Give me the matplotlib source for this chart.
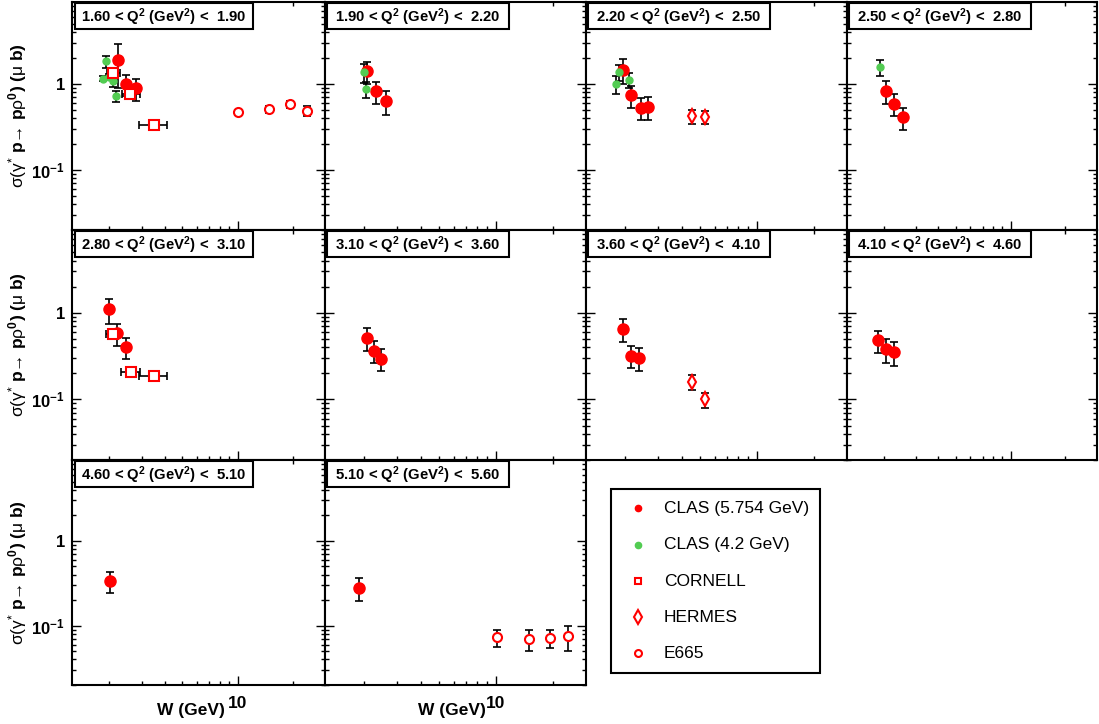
import numpy as np
import matplotlib
matplotlib.use("Agg")
import matplotlib.pyplot as plt
from matplotlib.patches import Rectangle
from matplotlib.lines import Line2D
from matplotlib.ticker import FixedLocator, FixedFormatter, NullFormatter

plt.rcParams['font.family'] = ['Liberation Sans', 'DejaVu Sans']
plt.rcParams['mathtext.fontset'] = 'custom'
plt.rcParams['mathtext.rm'] = 'Liberation Sans'
plt.rcParams['mathtext.it'] = 'Liberation Sans:italic'
plt.rcParams['mathtext.bf'] = 'Liberation Sans:bold'
plt.rcParams['mathtext.default'] = 'rm'

# ---------------- data ----------------
q2_low = ["1.60", "1.90", "2.20", "2.50", "2.80", "3.10", "3.60", "4.10", "4.60", "5.10"]
q2_high = ["1.90", "2.20", "2.50", "2.80", "3.10", "3.60", "4.10", "4.60", "5.10", "5.60"]

# CLAS (5.754 GeV)
clas57_panel = [0, 0, 0, 1, 1, 1, 2, 2, 2, 2, 3, 3, 3, 4, 4, 4, 5, 5, 5, 6, 6, 6, 7, 7, 7, 8, 9]
clas57_W = [2.22, 2.47, 2.79, 2.09, 2.32, 2.62, 1.97, 2.17, 2.44, 2.67, 2.06, 2.28, 2.55,
            2.00, 2.21, 2.45, 2.08, 2.28, 2.48, 1.97, 2.17, 2.38, 1.86, 2.06, 2.26, 2.01, 1.88]
clas57_sig = [1.91, 1.00, 0.89, 1.41, 0.82, 0.63, 1.47, 0.74, 0.53, 0.54, 0.83, 0.59, 0.41,
              1.09, 0.58, 0.40, 0.51, 0.366, 0.296, 0.655, 0.318, 0.304, 0.48, 0.38, 0.35, 0.34, 0.282]
clas57_err = [1.00, 0.28, 0.25, 0.40, 0.24, 0.19, 0.47, 0.22, 0.15, 0.16, 0.25, 0.17, 0.12,
              0.35, 0.17, 0.11, 0.15, 0.10, 0.085, 0.20, 0.09, 0.09, 0.14, 0.115, 0.105, 0.095, 0.085]

# CLAS (4.2 GeV)
clas42_panel = [0, 0, 0, 0, 0, 1, 1, 2, 2, 2, 3]
clas42_W = [1.92, 1.85, 1.98, 2.09, 2.17, 2.00, 2.06, 1.80, 1.86, 2.10, 1.89]
clas42_sig = [1.83, 1.15, 1.22, 1.08, 0.72, 1.38, 0.87, 1.00, 1.37, 1.11, 1.57]
clas42_err = [0.28, 0.08, 0.10, 0.15, 0.10, 0.34, 0.18, 0.24, 0.30, 0.22, 0.33]

# CORNELL
cornell_panel = [0, 0, 0, 4, 4, 4]
cornell_W = [2.09, 2.59, 3.49, 2.10, 2.61, 3.52]
cornell_Wlo = [1.94, 2.33, 2.89, 1.91, 2.32, 2.89]
cornell_Whi = [2.29, 2.92, 4.13, 2.30, 2.93, 4.13]
cornell_sig = [1.33, 0.76, 0.336, 0.57, 0.208, 0.187]
cornell_err = [0.10, 0.08, 0.012, 0.07, 0.025, 0.012]

# HERMES
hermes_panel = [2, 2, 6, 6]
hermes_W = [4.57, 5.35, 4.57, 5.35]
hermes_sig = [0.42, 0.41, 0.16, 0.10]
hermes_err = [0.08, 0.07, 0.03, 0.02]

# E665
e665_panel = [0, 0, 0, 0, 9, 9, 9, 9]
e665_W = [10.1, 14.9, 19.3, 24.0, 10.1, 14.9, 19.3, 24.0]
e665_sig = [0.47, 0.51, 0.58, 0.49, 0.073, 0.070, 0.072, 0.075]
e665_err = [0.03, 0.05, 0.05, 0.07, 0.017, 0.019, 0.017, 0.025]

legend_labels = ["CLAS (5.754 GeV)", "CLAS (4.2 GeV)", "CORNELL", "HERMES", "E665"]

x_major = [10]
x_minor = [2, 3, 4, 5, 6, 7, 8, 9, 20]
y_major = [0.1, 1]
y_major_labels = [r"$\mathbf{10^{-1}}$", "1"]
y_minor = [0.02, 0.03, 0.04, 0.05, 0.06, 0.07, 0.08, 0.09,
           0.2, 0.3, 0.4, 0.5, 0.6, 0.7, 0.8, 0.9, 2, 3, 4, 5, 6, 7, 8, 9]

# ---------------- layout ----------------
W_PX, H_PX = 1099, 724
fig = plt.figure(figsize=(W_PX / 100, H_PX / 100), dpi=100)

col_edges = [72, 325, 586, 847, 1097]
row_edges = [2, 230, 460, 685]

RED = "#ff0000"
GREEN = "#52cc52"


def fx(px):
    return px / W_PX


def fy(py):
    return 1 - py / H_PX


def select(panel_list, i, *arrays):
    idx = [k for k, p in enumerate(panel_list) if p == i]
    return [np.array([a[k] for k in idx]) for a in arrays]


ylabel = r"$\sigma(\gamma^{*}$ p→ p$\rho^{\mathbf{0}}$) ($\mu$ b)"

for i in range(10):
    r, c = divmod(i, 4)
    l, rg = col_edges[c], col_edges[c + 1]
    t, b = row_edges[r], row_edges[r + 1]
    ax = fig.add_axes([fx(l), fy(b), fx(rg - l), (b - t) / H_PX])
    ax.set_xscale("log")
    ax.set_yscale("log")
    ax.set_xlim(1.25, 30)
    ax.set_ylim(0.02, 9)
    for s in ax.spines.values():
        s.set_linewidth(1.5)

    ax.xaxis.set_major_locator(FixedLocator(x_major))
    ax.xaxis.set_minor_locator(FixedLocator(x_minor))
    ax.yaxis.set_major_locator(FixedLocator(y_major))
    ax.yaxis.set_minor_locator(FixedLocator(y_minor))
    ax.xaxis.set_minor_formatter(NullFormatter())
    ax.yaxis.set_minor_formatter(NullFormatter())
    if i in (8, 9):
        ax.xaxis.set_major_formatter(FixedFormatter(["10"]))
    else:
        ax.xaxis.set_major_formatter(NullFormatter())
    if c == 0:
        ax.yaxis.set_major_formatter(FixedFormatter(y_major_labels))
    else:
        ax.yaxis.set_major_formatter(NullFormatter())
    ax.tick_params(which="both", direction="in", top=True, right=True, width=1.0)
    ax.tick_params(which="major", length=6.5, labelsize=12, pad=5)
    ax.tick_params(which="minor", length=3.2)
    ax.tick_params(axis="x", which="major", pad=8, labelsize=12.5)
    for lab in ax.get_xticklabels() + ax.get_yticklabels():
        lab.set_fontweight("bold")

    # CLAS 5.754
    x, y, e = select(clas57_panel, i, clas57_W, clas57_sig, clas57_err)
    if len(x):
        ax.errorbar(x, y, yerr=e, fmt="none", ecolor="black", elinewidth=1.2,
                    capsize=2.8, capthick=1.2, zorder=2)
        ax.plot(x, y, ls="none", marker="o", ms=8, color=RED, mec=RED, zorder=3)
    # CLAS 4.2
    x, y, e = select(clas42_panel, i, clas42_W, clas42_sig, clas42_err)
    if len(x):
        ax.errorbar(x, y, yerr=e, fmt="none", ecolor="black", elinewidth=1.2,
                    capsize=2.8, capthick=1.2, zorder=2)
        ax.plot(x, y, ls="none", marker="o", ms=5, color=GREEN, mec=GREEN, zorder=4)
    # CORNELL
    x, xl, xh, y, e = select(cornell_panel, i, cornell_W, cornell_Wlo, cornell_Whi,
                             cornell_sig, cornell_err)
    if len(x):
        ax.errorbar(x, y, yerr=e, xerr=[x - xl, xh - x], fmt="none", ecolor="black",
                    elinewidth=1.2, capsize=2.8, capthick=1.2, zorder=2)
        ax.plot(x, y, ls="none", marker="s", ms=6.5, mfc="white", mec=RED, mew=1.5, zorder=5)
    # HERMES
    x, y, e = select(hermes_panel, i, hermes_W, hermes_sig, hermes_err)
    if len(x):
        ax.errorbar(x, y, yerr=e, fmt="none", ecolor="black", elinewidth=1.2,
                    capsize=2.8, capthick=1.2, zorder=2)
        ax.plot(x, y, ls="none", marker="d", ms=7.5, mfc="white", mec=RED, mew=1.5, zorder=5)
    # E665
    x, y, e = select(e665_panel, i, e665_W, e665_sig, e665_err)
    if len(x):
        ax.errorbar(x, y, yerr=e, fmt="none", ecolor="black", elinewidth=1.2,
                    capsize=2.8, capthick=1.2, zorder=2)
        ax.plot(x, y, ls="none", marker="o", ms=6.5, mfc="white", mec=RED, mew=1.5, zorder=5)

    # title box
    bx = l + (3 if c == 0 else 2)
    bw = 178 if c == 0 else 182
    by = t + 1
    bh = 26
    fig.add_artist(Rectangle((fx(bx), fy(by + bh)), bw / W_PX, bh / H_PX,
                             transform=fig.transFigure, fc="white", ec="black", lw=1.5, zorder=5))
    fig.text(fx(bx + bw / 2), fy(by + bh / 2 + 1),
             q2_low[i] + r" < Q$^{\mathbf{2}}$ (GeV$^{\mathbf{2}}$) <  " + q2_high[i],
             ha="center", va="center", fontsize=10.7, fontweight="bold", zorder=6)

    if c == 0:
        fig.text(fx(18), fy((t + b) / 2), ylabel, rotation=90, ha="center", va="center",
                 fontsize=12.5, fontweight="bold")
    if i in (8, 9):
        fig.text(fx(rg - 100), fy(711), "W (GeV)", ha="right", va="center",
                 fontsize=12.5, fontweight="bold")

# ---------------- legend ----------------
fig.add_artist(Rectangle((fx(611), fy(673)), 209 / W_PX, 184 / H_PX,
                         transform=fig.transFigure, fc="white", ec="black", lw=1.5))
legend_styles = [
    dict(marker="o", ms=4.5, color=RED, mec=RED),
    dict(marker="o", ms=4.5, color=GREEN, mec=GREEN),
    dict(marker="s", ms=5, mfc="white", mec=RED, mew=1.5),
    dict(marker="d", ms=7, mfc="white", mec=RED, mew=1.5),
    dict(marker="o", ms=5, mfc="white", mec=RED, mew=1.5),
]
legend_rows = [508, 545, 581, 617, 653]
for lab, st, ry in zip(legend_labels, legend_styles, legend_rows):
    fig.add_artist(Line2D([fx(638)], [fy(ry)], transform=fig.transFigure, ls="none", **st))
    fig.text(fx(664), fy(ry), lab, ha="left", va="center", fontsize=12.5)

fig.savefig("out.png", dpi=100)
